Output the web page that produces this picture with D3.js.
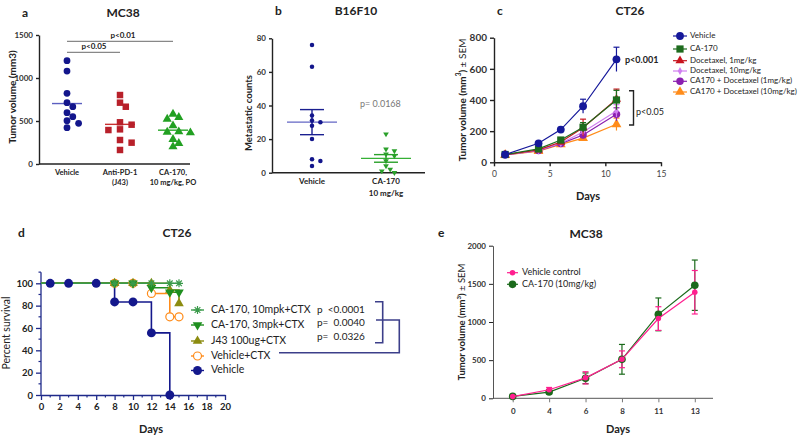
<!DOCTYPE html>
<html><head><meta charset="utf-8">
<script src="https://cdn.jsdelivr.net/npm/d3@7"></script>
<style>
body{margin:0;background:#fff}
svg{display:block}
text{font-family:Lato,"Open Sans",sans-serif}
</style>
</head><body>
<svg id="fig" width="800" height="436"></svg>
<script>
// ---------- DATA ----------
// Panel a: MC38 tumor volume (mm3)
const aCats = ["Vehicle", "Anti-PD-1", "CA-170,"];
const aCats2 = ["", "(J43)", "10 mg/kg, PO"];
const aVehicle = [1201, 1081, 822, 713, 666, 597, 550, 504, 473, 422];
const aAntiPD1 = [802, 713, 666, 485, 403, 395, 457, 279, 248, 163];
const aCA170 = [581, 543, 523, 446, 372, 364, 376, 287, 240, 201];
const aTicks = [0, 500, 1000, 1500];
const aTickLabels = ["0", "500", "1000", "1500"];
const aPLabels = ["p<0.05", "p<0.01"];

// Panel b: B16F10 metastatic counts
const bCats = ["Vehicle", "CA-170"];
const bCats2 = ["", "10 mg/kg"];
const bVehicle = [76, 63, 34, 31, 30, 28, 20, 8, 7, 4];
const bCA170 = [23, 14, 13, 11, 10, 7, 4, 2, 1, 0];
const bTicks = [0, 20, 40, 60, 80];
const bPLabel = "p= 0.0168";

// Panel c: CT26 tumor volume over days
const cDays = [1, 4, 6, 8, 11];
const cNames = ["Vehicle", "CA-170", "Docetaxel, 1mg/kg", "Docetaxel, 10mg/kg", "CA170 + Docetaxel (1mg/kg)", "CA170 + Docetaxel (10mg/kg)"];
const cVehicle = [50, 122, 210, 360, 661];
const cVehicleSem = [6, 10, 14, 45, 78];
const cCA170 = [50, 86, 143, 225, 400];
const cCA170Sem = [5, 8, 12, 30, 62];
const cDoc1 = [48, 80, 130, 222, 405];
const cDoc1Sem = [4, 8, 12, 55, 65];
const cDoc10 = [46, 76, 122, 195, 330];
const cDoc10Sem = [4, 6, 10, 20, 40];
const cCombo1 = [48, 75, 120, 175, 308];
const cCombo1Sem = [4, 6, 10, 20, 42];
const cCombo10 = [47, 72, 115, 155, 244];
const cCombo10Sem = [4, 6, 10, 15, 40];
const cTicksY = [0, 200, 400, 600, 800];
const cTicksX = [0, 5, 10, 15];
const cPLabels = ["p<0.001", "p<0.05"];

// Panel d: CT26 survival (Kaplan-Meier)
const dNames = ["CA-170, 10mpk+CTX", "CA-170, 3mpk+CTX", "J43 100ug+CTX", "Vehicle+CTX", "Vehicle"];
const dDaysCTX = [0, 8, 10, 12, 14, 15];
const dCA10 = [100, 100, 100, 100, 100, 100];
const dCA3 = [100, 100, 100, 96, 92, 92];
const dJ43 = [100, 100, 100, 100, 94, 82];
const dVehCTX = [100, 100, 100, 90.9, 70, 70];
const dDaysVeh = [0, 1, 3, 6, 8, 10, 12, 14];
const dVehicle = [100, 100, 100, 100, 83.3, 83.3, 55.6, 0];
const dTicksY = [0, 20, 40, 60, 80, 100];
const dTicksX = [0, 2, 4, 6, 8, 10, 12, 14, 16, 18, 20];
const dPLabels = ["p  <0.0001", "p=  0.0040", "p=  0.0326"];

// Panel e: MC38 tumor volume
const eDays = ["0", "4", "6", "8", "11", "13"];
const eNames = ["Vehicle control", "CA-170 (10mg/kg)"];
const eVehicle = [22, 112, 268, 511, 1045, 1390];
const eVehicleSem = [15, 30, 80, 110, 155, 285];
const eCA170 = [25, 82, 262, 511, 1100, 1482];
const eCA170Sem = [15, 25, 70, 195, 215, 330];
const eTicksY = [0, 500, 1000, 1500, 2000];

// ---------- HELPERS ----------
const svg = d3.select("#fig");
const AX = "#222";
function styleAxis(g, fs) {
  g.select(".domain").attr("stroke", AX).attr("stroke-width", 1.4);
  g.selectAll(".tick line").attr("stroke", AX).attr("stroke-width", 1.4);
  g.selectAll(".tick text").attr("fill", "#333").attr("font-weight", "bold").attr("font-size", fs).style("font-family", "Lato, 'Open Sans', sans-serif");
}
function text(x, y, s, o = {}) {
  const t = svg.append("text").attr("x", x).attr("y", y).text(s)
    .attr("font-size", o.fs || 10).attr("font-weight", o.fw || "normal")
    .attr("fill", o.fill || "#222").attr("text-anchor", o.anchor || "start")
    .attr("dominant-baseline", o.db || "middle");
  if (o.rot) t.attr("transform", `rotate(-90,${x},${y})`);
  if (o.pre) t.style("white-space", "pre");
  return t;
}
function ylabelSup(x, y, fs) {
  const t = svg.append("text").attr("x", x).attr("y", y)
    .attr("font-size", fs).attr("font-weight", "bold").attr("fill", "#222")
    .attr("text-anchor", "middle").attr("dominant-baseline", "middle")
    .attr("transform", `rotate(-90,${x},${y})`);
  t.append("tspan").text("Tumor volume (mm");
  t.append("tspan").text("3").attr("font-size", fs * 0.65).attr("dy", -fs * 0.4);
  t.append("tspan").text(") ").attr("dy", fs * 0.4);
  t.append("tspan").text("± SEM").attr("font-weight", "normal");
}
function swarm(values, y, cx, d, r) {
  const idx = values.map((v, i) => i).sort((a, b) => values[b] - values[a]);
  const placed = [], xs = new Array(values.length);
  for (const i of idx) {
    const yi = y(values[i]);
    for (let k = 0; k < 40; k++) {
      const off = k === 0 ? 0 : (k % 2 ? Math.ceil(k / 2) : -Math.ceil(k / 2)) * d;
      const x = cx + off;
      if (placed.every(p => Math.hypot(p[0] - x, p[1] - yi) >= 2 * r)) { placed.push([x, yi]); xs[i] = x; break; }
    }
  }
  return xs;
}
const sem = a => d3.deviation(a) / Math.sqrt(a.length);

// ---------- PANEL A ----------
{
  const y = d3.scaleLinear().domain([0, 1500]).range([164, 35]);
  const x = d3.scalePoint().domain(aCats).range([67, 173]);
  const g = svg.append("g").attr("transform", "translate(39,0)")
    .call(d3.axisLeft(y).tickValues(aTicks).tickFormat((d, i) => aTickLabels[i]).tickSize(3).tickSizeOuter(0));
  styleAxis(g, 8);
  svg.append("line").attr("x1", 39).attr("x2", 190).attr("y1", y(0)).attr("y2", y(0)).attr("stroke", AX).attr("stroke-width", 1.4);
  const groups = [
    { v: aVehicle, c: "#13168c", line: "#5b5fc0", sym: d3.symbolCircle, size: 36 },
    { v: aAntiPD1, c: "#b8202a", line: "#c83030", sym: d3.symbolSquare, size: 42 },
    { v: aCA170, c: "#22a022", line: "#2aa82a", sym: d3.symbolTriangle, size: 36 }];
  groups.forEach((gr, i) => {
    const cx = x(aCats[i]);
    const m = d3.mean(gr.v);
    svg.append("line").attr("x1", cx - 15).attr("x2", cx + 15).attr("y1", y(m)).attr("y2", y(m)).attr("stroke", gr.line).attr("stroke-width", 1.4);
    const xs = swarm(gr.v, y, cx, 5.8, 3.3);
    gr.v.forEach((v, j) => svg.append("path").attr("d", d3.symbol(gr.sym, gr.size)()).attr("transform", `translate(${xs[j]},${y(v)})`).attr("fill", gr.c));
    text(cx, 173, aCats[i], { fs: 7.5, fw: "bold", anchor: "middle" });
    if (aCats2[i]) text(cx, 183, aCats2[i], { fs: 7.5, fw: "bold", anchor: "middle" });
  });
  svg.append("line").attr("x1", x(aCats[0])).attr("x2", x(aCats[1])).attr("y1", 52.3).attr("y2", 52.3).attr("stroke", "#888").attr("stroke-width", 1.3);
  svg.append("line").attr("x1", x(aCats[0])).attr("x2", x(aCats[2])).attr("y1", 41.3).attr("y2", 41.3).attr("stroke", "#888").attr("stroke-width", 1.3);
  text(94, 47, aPLabels[0], { fs: 8, fw: "bold", anchor: "middle" });
  text(123, 36, aPLabels[1], { fs: 8, fw: "bold", anchor: "middle" });
  text(13, 97, "Tumor volume (mm3)", { fs: 10, fw: "bold", anchor: "middle", rot: true });
  text(22, 14, "a", { fs: 12, fw: "bold" });
  text(123, 14, "MC38", { fs: 12, fw: "bold", anchor: "middle" });
}

// ---------- PANEL B ----------
{
  const y = d3.scaleLinear().domain([0, 80]).range([172.7, 38.3]);
  const x = d3.scalePoint().domain(bCats).range([312, 386]);
  const g = svg.append("g").attr("transform", "translate(272,0)")
    .call(d3.axisLeft(y).tickValues(bTicks).tickSize(3).tickSizeOuter(0));
  styleAxis(g, 8);
  svg.append("line").attr("x1", 272).attr("x2", 425).attr("y1", y(0)).attr("y2", y(0)).attr("stroke", AX).attr("stroke-width", 1.4);
  const groups = [
    { v: bVehicle, c: "#13168c", line: "#6366c4", err: "#1a1f90", sym: d3.symbolCircle, size: 16 },
    { v: bCA170, c: "#2aa02a", line: "#35b035", err: "#2aa02a", sym: d3.symbolTriangle, size: 14 }];
  groups.forEach((gr, i) => {
    const cx = x(bCats[i]);
    const m = d3.mean(gr.v), s = sem(gr.v);
    svg.append("line").attr("x1", cx - 25).attr("x2", cx + 25).attr("y1", y(m)).attr("y2", y(m)).attr("stroke", gr.line).attr("stroke-width", 1.4);
    svg.append("line").attr("x1", cx).attr("x2", cx).attr("y1", y(m - s)).attr("y2", y(m + s)).attr("stroke", gr.err).attr("stroke-width", 1.4);
    [m - s, m + s].forEach(v => svg.append("line").attr("x1", cx - 12).attr("x2", cx + 12).attr("y1", y(v)).attr("y2", y(v)).attr("stroke", gr.err).attr("stroke-width", 1.4));
    const xs = swarm(gr.v, y, cx, 4.2, 2.3);
    gr.v.forEach((v, j) => svg.append("path").attr("d", d3.symbol(gr.sym, gr.size)()).attr("transform", `translate(${xs[j]},${y(v)})` + (gr.sym === d3.symbolTriangle ? " rotate(180)" : "")).attr("fill", gr.c));
    text(cx, 182, bCats[i], { fs: 8, fw: "bold", anchor: "middle" });
    if (bCats2[i]) text(cx, 194, bCats2[i], { fs: 8, fw: "bold", anchor: "middle" });
  });
  text(360, 105, bPLabel, { fs: 9, fill: "#777", pre: true });
  text(250, 113, "Metastatic counts", { fs: 9.5, fw: "bold", anchor: "middle", rot: true });
  text(275, 12, "b", { fs: 12, fw: "bold" });
  text(356, 12, "B16F10", { fs: 12, fw: "bold", anchor: "middle" });
}

// ---------- PANEL C ----------
{
  const y = d3.scaleLinear().domain([0, 800]).range([162.3, 37.7]);
  const x = d3.scaleLinear().domain([0, 15]).range([494, 661]);
  const gy = svg.append("g").attr("transform", "translate(494,0)")
    .call(d3.axisLeft(y).tickValues(cTicksY).tickSize(4).tickSizeOuter(0));
  styleAxis(gy, 10);
  const gx = svg.append("g").attr("transform", `translate(0,${y(0)})`)
    .call(d3.axisBottom(x).tickValues(cTicksX).tickSize(4).tickSizeOuter(0));
  styleAxis(gx, 8.5);
  gx.selectAll(".tick text").attr("dy", "0.9em").attr("font-weight", "normal").attr("fill", "#444");
  const series = [
    { v: cVehicle, s: cVehicleSem, c: "#15189a", sym: d3.symbolCircle, size: 48 },
    { v: cCA170, s: cCA170Sem, c: "#1d6b1d", sym: d3.symbolSquare, size: 52 },
    { v: cDoc1, s: cDoc1Sem, c: "#c8141e", sym: d3.symbolTriangle, size: 36 },
    { v: cDoc10, s: cDoc10Sem, c: "#d07ff0", sym: d3.symbolDiamond, size: 18 },
    { v: cCombo1, s: cCombo1Sem, c: "#8a1fb0", sym: d3.symbolCircle, size: 44 },
    { v: cCombo10, s: cCombo10Sem, c: "#ff8c1a", sym: d3.symbolTriangle, size: 42 }];
  const line = d3.line().x((d, i) => x(cDays[i])).y(d => y(d));
  [5, 4, 3, 2, 1, 0].forEach(k => {
    const se = series[k];
    se.v.forEach((v, i) => {
      const xx = x(cDays[i]);
      svg.append("line").attr("x1", xx).attr("x2", xx).attr("y1", y(v - se.s[i])).attr("y2", y(v + se.s[i])).attr("stroke", se.c).attr("stroke-width", 1.2);
      svg.append("line").attr("x1", xx - 3).attr("x2", xx + 3).attr("y1", y(v + se.s[i])).attr("y2", y(v + se.s[i])).attr("stroke", se.c).attr("stroke-width", 1.2);
    });
    svg.append("path").attr("d", line(se.v)).attr("fill", "none").attr("stroke", se.c).attr("stroke-width", 1.2);
    se.v.forEach((v, i) => svg.append("path").attr("d", d3.symbol(se.sym, se.size)()).attr("transform", `translate(${x(cDays[i])},${y(v)})`).attr("fill", se.c));
  });
  const ly = [36, 49, 60.7, 71, 81.3, 92];
  series.forEach((se, i) => {
    svg.append("line").attr("x1", 673).attr("x2", 687).attr("y1", ly[i]).attr("y2", ly[i]).attr("stroke", se.c).attr("stroke-width", 1.2);
    svg.append("path").attr("d", d3.symbol(se.sym, se.size)()).attr("transform", `translate(680,${ly[i]})`).attr("fill", se.c);
    text(690, ly[i], cNames[i], { fs: 8 });
  });
  text(625, 61, cPLabels[0], { fs: 9, fw: "bold" });
  svg.append("path").attr("d", "M629,90.7H633.5V125H629").attr("fill", "none").attr("stroke", "#222").attr("stroke-width", 1.4);
  text(636, 113, cPLabels[1], { fs: 9 });
  ylabelSup(463, 100, 10);
  text(588, 197, "Days", { fs: 11, fw: "bold", anchor: "middle" });
  text(497, 12, "c", { fs: 12, fw: "bold" });
  text(630, 12, "CT26", { fs: 12, fw: "bold", anchor: "middle" });
}

// ---------- PANEL D ----------
{
  const y = d3.scaleLinear().domain([0, 100]).range([395, 283.3]);
  const x = d3.scaleLinear().domain([0, 20]).range([41, 225]);
  const NAVY = "#1f2a8a";
  const gy = svg.append("g").attr("transform", "translate(41,0)")
    .call(d3.axisLeft(y).tickValues(dTicksY).tickSize(5).tickSizeOuter(0));
  gy.select(".domain").remove();
  gy.selectAll(".tick line").attr("stroke", NAVY).attr("stroke-width", 1.3);
  gy.selectAll(".tick text").attr("fill", "#222").attr("font-weight", "bold").attr("font-size", 9.5);
  svg.append("line").attr("x1", 41).attr("x2", 41).attr("y1", y(0)).attr("y2", y(110)).attr("stroke", NAVY).attr("stroke-width", 1.3);
  d3.range(10, 111, 20).forEach(v => svg.append("line").attr("x1", 38.5).attr("x2", 41).attr("y1", y(v)).attr("y2", y(v)).attr("stroke", NAVY).attr("stroke-width", 1.2));
  const gx = svg.append("g").attr("transform", `translate(0,${y(0)})`)
    .call(d3.axisBottom(x).tickValues(dTicksX).tickSize(5).tickSizeOuter(0));
  gx.select(".domain").attr("stroke", NAVY).attr("stroke-width", 1.3);
  gx.selectAll(".tick line").attr("stroke", NAVY).attr("stroke-width", 1.3);
  gx.selectAll(".tick text").attr("fill", "#222").attr("font-weight", "bold").attr("font-size", 9.5);
  d3.range(1, 20, 2).forEach(v => svg.append("line").attr("x1", x(v)).attr("x2", x(v)).attr("y1", y(0)).attr("y2", y(0) + 2.5).attr("stroke", NAVY).attr("stroke-width", 1.2));

  const star = { draw(ctx, size) { const r = Math.sqrt(size) / 2; for (let k = 0; k < 4; k++) { const a = k * Math.PI / 4; ctx.moveTo(-r * Math.cos(a), -r * Math.sin(a)); ctx.lineTo(r * Math.cos(a), r * Math.sin(a)); } } };
  const series = [
    { d: dDaysCTX, v: dCA10, c: "#3a9a4a", sym: star, size: 64, stroke: true },
    { d: dDaysCTX, v: dCA3, c: "#1f8f1f", sym: d3.symbolTriangle, size: 40, rot: 180 },
    { d: dDaysCTX, v: dJ43, c: "#8c8c10", sym: d3.symbolTriangle, size: 40 },
    { d: dDaysCTX, v: dVehCTX, c: "#ff8c1a", sym: d3.symbolCircle, size: 50, open: true },
    { d: dDaysVeh, v: dVehicle, c: "#14188c", sym: d3.symbolCircle, size: 62 }];
  const line = d3.line().curve(d3.curveStepAfter).x((p) => x(p[0])).y(p => y(p[1]));
  function marker(se, cx, cy) {
    const p = svg.append("path").attr("d", d3.symbol(se.sym, se.size)()).attr("transform", `translate(${cx},${cy}) rotate(${se.rot || 0})`);
    if (se.stroke) p.attr("fill", "none").attr("stroke", se.c).attr("stroke-width", 1.2);
    else if (se.open) p.attr("fill", "#fff").attr("stroke", se.c).attr("stroke-width", 1.2);
    else p.attr("fill", se.c);
  }
  [4, 3, 2, 1, 0].forEach(k => {
    const se = series[k];
    svg.append("path").attr("d", line(se.d.map((d, i) => [d, se.v[i]]))).attr("fill", "none").attr("stroke", se.c).attr("stroke-width", 1.6);
  });
  [4, 3, 2, 1, 0].forEach(k => {
    const se = series[k];
    se.d.forEach((d, i) => { if (d > 0) marker(se, x(d), y(se.v[i])); });
  });
  const ly = [310, 325, 341, 356, 370.5];
  series.forEach((se, i) => {
    svg.append("line").attr("x1", 191).attr("x2", 204).attr("y1", ly[i]).attr("y2", ly[i]).attr("stroke", se.c).attr("stroke-width", 1.4);
    marker(se, 197.5, ly[i]);
    text(211, ly[i], dNames[i], { fs: 10.5 });
  });
  dPLabels.forEach((p, i) => text(317, [310, 323.5, 337.5][i], p, { fs: 10, pre: true }));
  svg.append("path").attr("d", "M375,301.7H382.7V342.7H375").attr("fill", "none").attr("stroke", "#3c3f8a").attr("stroke-width", 1.6);
  svg.append("path").attr("d", "M376,320H399.3V352.7H279").attr("fill", "none").attr("stroke", "#3c3f8a").attr("stroke-width", 1.6);
  text(7, 333, "Percent survival", { fs: 10.5, anchor: "middle", rot: true });
  text(151, 430, "Days", { fs: 11, fw: "bold", anchor: "middle" });
  text(18, 234, "d", { fs: 12, fw: "bold" });
  text(177, 234, "CT26", { fs: 12, fw: "bold", anchor: "middle" });
}

// ---------- PANEL E ----------
{
  const y = d3.scaleLinear().domain([0, 2000]).range([398.3, 245.7]);
  const x = d3.scalePoint().domain(eDays).range([494.5, 713]).padding(0.5);
  const gy = svg.append("g").attr("transform", "translate(493,0)")
    .call(d3.axisLeft(y).tickValues(eTicksY).tickFormat(d3.format("d")).tickSize(4).tickSizeOuter(0));
  styleAxis(gy, 8);
  gy.selectAll(".tick line").attr("stroke-width", 1);
  gy.select(".domain").attr("stroke", "#555").attr("stroke-width", 1);
  const gx = svg.append("g").attr("transform", `translate(0,${y(0)})`)
    .call(d3.axisBottom(x).tickSize(4).tickSizeOuter(0));
  styleAxis(gx, 8);
  gx.select(".domain").attr("d", `M493,0H713`).attr("stroke", "#555").attr("stroke-width", 1);
  gx.selectAll(".tick line").attr("stroke-width", 1).attr("stroke", "#777");
  gx.selectAll(".tick text").attr("dy", "1.1em");
  const series = [
    { v: eVehicle, s: eVehicleSem, c: "#ff1f8f", size: 24 },
    { v: eCA170, s: eCA170Sem, c: "#1b6a1b", size: 46 }];
  const line = d3.line().x((d, i) => x(eDays[i])).y(d => y(d));
  [1, 0].forEach(k => {
    const se = series[k];
    se.v.forEach((v, i) => {
      const xx = x(eDays[i]);
      svg.append("line").attr("x1", xx).attr("x2", xx).attr("y1", y(Math.max(0, v - se.s[i]))).attr("y2", y(v + se.s[i])).attr("stroke", se.c).attr("stroke-width", 1.2);
      [v - se.s[i], v + se.s[i]].forEach(w => svg.append("line").attr("x1", xx - 3).attr("x2", xx + 3).attr("y1", y(Math.max(0, w))).attr("y2", y(Math.max(0, w))).attr("stroke", se.c).attr("stroke-width", 1.2));
    });
  });
  [1, 0].forEach(k => {
    const se = series[k];
    svg.append("path").attr("d", line(se.v)).attr("fill", "none").attr("stroke", se.c).attr("stroke-width", 1.2);
    se.v.forEach((v, i) => svg.append("path").attr("d", d3.symbol(d3.symbolCircle, se.size)()).attr("transform", `translate(${x(eDays[i])},${y(v)})`).attr("fill", se.c));
  });
  const ly = [272.7, 284.3];
  series.forEach((se, i) => {
    svg.append("line").attr("x1", 507).attr("x2", 518).attr("y1", ly[i]).attr("y2", ly[i]).attr("stroke", se.c).attr("stroke-width", 1.2);
    svg.append("path").attr("d", d3.symbol(d3.symbolCircle, se.size)()).attr("transform", `translate(512.5,${ly[i]})`).attr("fill", se.c);
    text(522, ly[i], eNames[i], { fs: 9 });
  });
  ylabelSup(463, 322, 9.5);
  text(618, 430, "Days", { fs: 11, fw: "bold", anchor: "middle" });
  text(438, 234, "e", { fs: 12, fw: "bold" });
  text(586, 235, "MC38", { fs: 12, fw: "bold", anchor: "middle" });
}
</script>
</body></html>
